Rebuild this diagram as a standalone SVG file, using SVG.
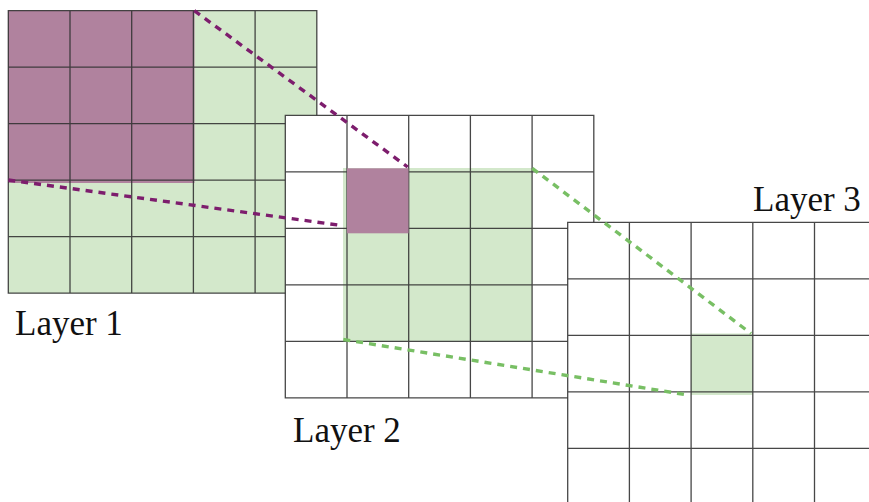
<svg xmlns="http://www.w3.org/2000/svg" xmlns:xlink="http://www.w3.org/1999/xlink" width="869" height="502" viewBox="0 0 869 502">
  <style>
    .bg { fill: #ffffff; }
    .green { fill: #d3e8cb; }
    .purple { fill: #b0829e; }
    .grid { fill: none; stroke: #333333; stroke-width: 1.3; stroke-opacity: 0.9; }
    .label { font-family: "Liberation Serif", "Times New Roman", serif; font-size: 35px; fill: #111111; }
    .link { fill: none; stroke-width: 3.4; stroke-dasharray: 7 6; }
    .link-purple { stroke: #7d1d6d; }
    .link-green { stroke: #78bf64; }
  </style>
  <defs>
    <!-- 5 x 5 cell grid, cell 61.7 x 56.5 -->
    <path id="grid5" class="grid" d="M0 0H308.5V282.5H0Z
      M61.7 0V282.5 M123.4 0V282.5 M185.1 0V282.5 M246.8 0V282.5
      M0 56.5H308.5 M0 113H308.5 M0 169.5H308.5 M0 226H308.5"/>
  </defs>

  <g id="layer1">
    <rect class="green" x="8.3" y="10.7" width="308.5" height="282.5"/>
    <rect class="purple" x="8" y="10.5" width="186.5" height="172.5"/>
    <use xlink:href="#grid5" href="#grid5" x="8.3" y="10.7"/>
    <text class="label" x="15" y="335">Layer 1</text>
  </g>

  <g id="layer2">
    <rect class="bg" x="285.3" y="115.3" width="308.5" height="282.5"/>
    <rect class="green" x="343" y="168" width="189" height="173.3"/>
    <use xlink:href="#grid5" href="#grid5" x="285.3" y="115.3"/>
    <rect class="purple" x="347" y="168.3" width="61.5" height="65"/>
    <text class="label" x="293" y="441.5">Layer 2</text>
  </g>

  <g id="layer3">
    <rect class="bg" x="567.7" y="222.3" width="308.5" height="282.5"/>
    <rect class="green" x="691" y="333.5" width="61.7" height="61.5"/>
    <use xlink:href="#grid5" href="#grid5" x="567.7" y="222.3"/>
    <text class="label" x="753" y="210.5">Layer 3</text>
  </g>

  <g id="connectors">
    <path class="link link-purple" d="M194.3 10.7L407.7 167"/>
    <path class="link link-purple" d="M8.3 180L338 225"/>
    <path class="link link-green" d="M532.3 168.3L751 333.5"/>
    <path class="link link-green" d="M343.3 339.5L685 394.5"/>
  </g>
</svg>
